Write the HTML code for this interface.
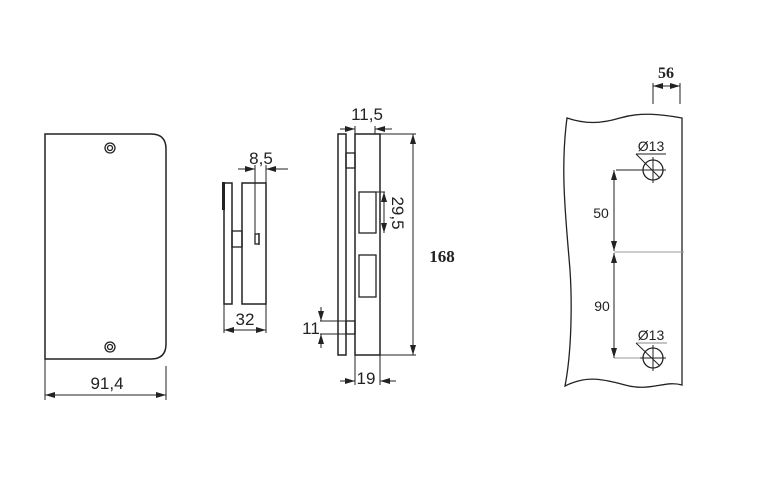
<!DOCTYPE html>
<html><head><meta charset="utf-8"><style>
html,body{margin:0;padding:0;background:#fff;}
svg{display:block;}
text{font-family:"Liberation Sans",sans-serif;fill:#222;}
</style></head><body>
<svg width="761" height="496" viewBox="0 0 761 496" xmlns="http://www.w3.org/2000/svg">
<defs>
<marker id="a" viewBox="0 0 10 6" refX="10" refY="3" markerWidth="10" markerHeight="6" orient="auto-start-reverse" markerUnits="userSpaceOnUse"><path d="M0,0 L10,3 L0,6 z" fill="#222"/></marker>
</defs>
<g stroke="#222" stroke-width="1.3" fill="none">
<path d="M45,134 H151 Q166,134 166,149 V344 Q166,359 151,359 H45 Z" stroke-width="1.5"/>
<circle cx="110" cy="148" r="5"/><circle cx="110" cy="148" r="2.5"/>
<circle cx="110" cy="347" r="5"/><circle cx="110" cy="347" r="2.5"/>
<line x1="45" y1="359" x2="45" y2="400" stroke-width="1"/>
<line x1="166" y1="366" x2="166" y2="400" stroke-width="1"/>
<line x1="45" y1="395" x2="166" y2="395" stroke-width="1" marker-start="url(#a)" marker-end="url(#a)"/>

<rect x="224" y="183" width="8" height="121" stroke-width="1.5"/>
<rect x="222" y="182" width="3" height="28" fill="#222" stroke="none"/>
<rect x="242" y="183" width="24" height="121" stroke-width="1.5"/>
<rect x="232" y="231" width="10" height="16"/>
<rect x="255" y="234" width="4" height="10"/>
<line x1="259" y1="233" x2="259" y2="245"/>
<line x1="255" y1="165" x2="255" y2="234" stroke-width="1"/>
<line x1="266" y1="165" x2="266" y2="183" stroke-width="1"/>
<line x1="238" y1="169" x2="255" y2="169" stroke-width="1" marker-end="url(#a)"/>
<line x1="288" y1="169" x2="266" y2="169" stroke-width="1" marker-end="url(#a)"/>
<line x1="224" y1="304" x2="224" y2="333" stroke-width="1"/>
<line x1="266" y1="304" x2="266" y2="333" stroke-width="1"/>
<line x1="224" y1="330" x2="266" y2="330" stroke-width="1" marker-start="url(#a)" marker-end="url(#a)"/>

<rect x="338" y="134" width="8" height="221" stroke-width="1.5"/>
<rect x="355" y="134" width="25" height="221" stroke-width="1.5"/>
<rect x="346" y="153" width="9" height="15"/>
<rect x="346" y="321" width="9" height="13"/>
<rect x="359" y="192" width="17" height="41"/>
<rect x="359" y="255" width="17" height="42"/>
<line x1="376" y1="192" x2="385" y2="192" stroke-width="1"/>
<line x1="384" y1="192" x2="384" y2="233" stroke-width="1" marker-start="url(#a)" marker-end="url(#a)"/>
<line x1="380" y1="134" x2="416" y2="134" stroke-width="1"/>
<line x1="380" y1="355" x2="416" y2="355" stroke-width="1"/>
<line x1="413" y1="134" x2="413" y2="355" stroke-width="1" marker-start="url(#a)" marker-end="url(#a)"/>
<line x1="355" y1="126" x2="355" y2="134" stroke-width="1"/>
<line x1="375" y1="126" x2="375" y2="134" stroke-width="1"/>
<line x1="340" y1="129" x2="355" y2="129" stroke-width="1" marker-end="url(#a)"/>
<line x1="392" y1="129" x2="375" y2="129" stroke-width="1" marker-end="url(#a)"/>
<line x1="320" y1="321" x2="346" y2="321" stroke-width="1"/>
<line x1="320" y1="334" x2="346" y2="334" stroke-width="1"/>
<line x1="321" y1="307" x2="321" y2="321" stroke-width="1" marker-end="url(#a)"/>
<line x1="321" y1="348" x2="321" y2="334" stroke-width="1" marker-end="url(#a)"/>
<line x1="355" y1="355" x2="355" y2="385" stroke-width="1"/>
<line x1="380" y1="355" x2="380" y2="385" stroke-width="1"/>
<line x1="340" y1="381" x2="355" y2="381" stroke-width="1" marker-end="url(#a)"/>
<line x1="396" y1="381" x2="380" y2="381" stroke-width="1" marker-end="url(#a)"/>

<path d="M567,118 C585,124 600,124 620,118 C640,112 660,114 682,118 V385 C665,380 650,392 625,385 C600,378 585,376 565,386 C572,350 572,300 570,270 C566,220 560,170 567,118 Z" stroke-width="1.3"/>
<line x1="653" y1="83" x2="653" y2="104" stroke-width="1"/>
<line x1="680" y1="83" x2="680" y2="104" stroke-width="1"/>
<line x1="653" y1="86" x2="680" y2="86" stroke-width="1" marker-start="url(#a)" marker-end="url(#a)"/>
<circle cx="653" cy="170" r="10"/>
<line x1="653" y1="157" x2="653" y2="183" stroke-width="1"/>
<line x1="640" y1="170" x2="666" y2="170" stroke-width="1"/>
<line x1="636" y1="154" x2="666" y2="154" stroke-width="1"/>
<line x1="636" y1="154" x2="660" y2="178" stroke-width="1"/>
<line x1="616" y1="170" x2="640" y2="170" stroke-width="1"/>
<circle cx="653" cy="358" r="10"/>
<line x1="653" y1="345" x2="653" y2="371" stroke-width="1"/>
<line x1="640" y1="358" x2="666" y2="358" stroke-width="1"/>
<line x1="636" y1="343" x2="667" y2="343" stroke-width="1" stroke="#888"/>
<line x1="636" y1="343" x2="660" y2="366" stroke-width="1"/>
<line x1="614" y1="358" x2="640" y2="358" stroke-width="1" stroke="#999"/>
<line x1="614" y1="252" x2="684" y2="252" stroke-width="1" stroke="#999"/>
<line x1="614" y1="170" x2="614" y2="251" stroke-width="1" marker-start="url(#a)" marker-end="url(#a)"/>
<line x1="614" y1="253" x2="614" y2="358" stroke-width="1" marker-start="url(#a)" marker-end="url(#a)"/>
</g>
<text x="107" y="389" font-size="17" text-anchor="middle">91,4</text>
<text x="261" y="164" font-size="17" text-anchor="middle">8,5</text>
<text x="245" y="325" font-size="17" text-anchor="middle">32</text>
<text x="367" y="120" font-size="17" text-anchor="middle">11,5</text>
<text x="0" y="0" font-size="17" text-anchor="middle" transform="translate(392,213) rotate(90)">29,5</text>
<text x="311" y="334" font-size="17" text-anchor="middle">11</text>
<text x="366" y="384" font-size="17" text-anchor="middle">19</text>
<text x="442" y="262" font-size="17" font-weight="bold" text-anchor="middle" style="font-family:'Liberation Serif',serif">168</text>
<text x="666" y="78" font-size="16" font-weight="bold" text-anchor="middle" style="font-family:'Liberation Serif',serif">56</text>
<text x="651" y="151" font-size="14" text-anchor="middle">Ø13</text>
<text x="651" y="340" font-size="14" text-anchor="middle">Ø13</text>
<text x="601" y="218" font-size="14" text-anchor="middle">50</text>
<text x="602" y="311" font-size="14" text-anchor="middle">90</text>
</svg>
</body></html>
